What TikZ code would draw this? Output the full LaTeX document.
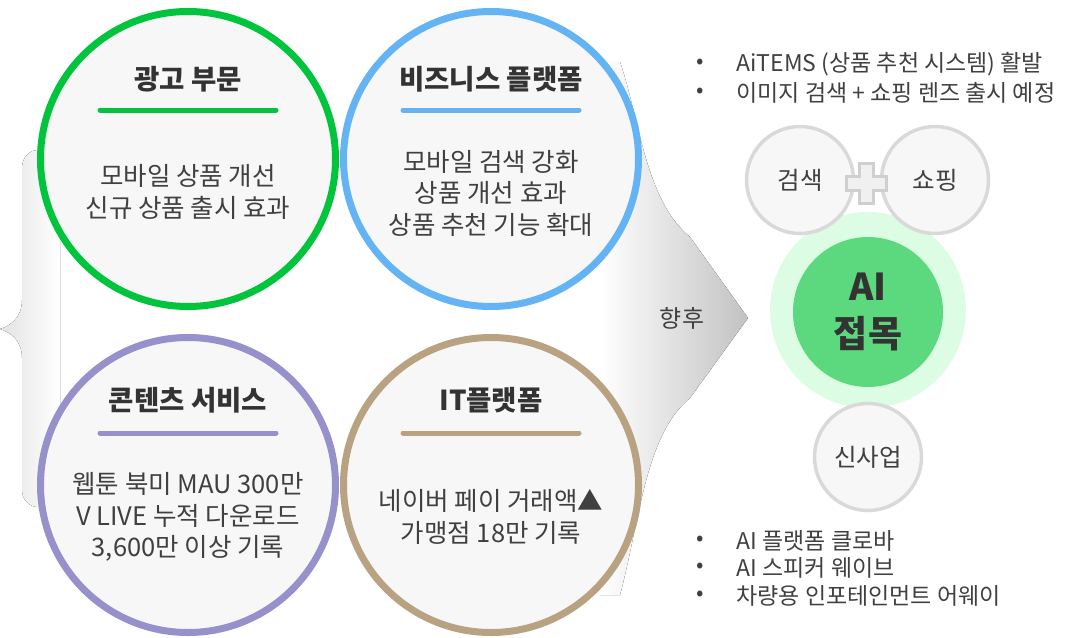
\documentclass[tikz,border=0pt]{standalone}
\usepackage{fontspec}
\setmainfont{Noto Sans CJK KR}
\usetikzlibrary{positioning}
\definecolor{adgreen}{HTML}{00C43C}
\definecolor{bizblue}{HTML}{64B4F5}
\definecolor{conpurple}{HTML}{9691CA}
\definecolor{itbrown}{HTML}{B9A282}
\definecolor{txtgray}{HTML}{404040}
\definecolor{headgray}{HTML}{333333}
\definecolor{ringgray}{HTML}{D9D9D9}
\definecolor{softfill}{HTML}{F7F7F7}
\definecolor{aiglow}{HTML}{DCFCE3}
\definecolor{aigreen}{HTML}{5CD97F}
\tikzset{
  areacircle/.style={circle, line width=7pt, fill=softfill, minimum size=295pt, inner sep=0pt},
  areatitle/.style={font=\bfseries\fontsize{27.5}{32}\selectfont, text=headgray},
  areabody/.style={align=center, font=\fontsize{25.5}{31.5}\selectfont, text=txtgray},
  titlebar/.style={line width=5pt, line cap=round},
  smallcircle/.style={circle, line width=3.5pt, draw=ringgray, fill=softfill, minimum size=107pt, inner sep=0pt,
    font=\fontsize{24.5}{28}\selectfont, text=txtgray},
  bulletdot/.style={font=\fontsize{22}{26}\selectfont, text=txtgray},
  bullettext/.style={anchor=west, font=\fontsize{23}{27}\selectfont, text=txtgray}
}
\begin{document}
\begin{tikzpicture}[x=1pt, y=-1pt]
  \useasboundingbox (0,0) rectangle (1078,637);

  % brace behind the left circles
  \fill[left color=black!11, right color=white]
    (60,150) -- (38,150) to[out=180, in=90] (22,168) -- (22,300)
    .. controls (22,318) and (10,326) .. (0,329)
    .. controls (10,332) and (22,340) .. (22,358) -- (22,490)
    to[out=-90, in=180] (38,507) -- (60,507) -- cycle;

  % big arrow towards the AI circle
  \fill[left color=white, right color=black!24]
    (600,62) -- (620,62) .. controls (640,120) and (645,200) .. (690,237)
    -- (748,318) -- (690,398)
    .. controls (645,435) and (640,520) .. (620,595) -- (600,595) -- cycle;
  \node[font=\fontsize{24}{28}\selectfont, text=txtgray] (later) at (682,318) {향후};

  % four business areas
  \node[areacircle, draw=adgreen] (ad) at (188,159) {};
  \node[areatitle] (adtitle) at (188,79) {광고 부문};
  \draw[titlebar, adgreen] (100,110) -- (276,110);
  \node[areabody] (adbody) at (188,192) {모바일 상품 개선\\신규 상품 출시 효과};

  \node[areacircle, draw=bizblue] (biz) at (491,159) {};
  \node[areatitle] (biztitle) at (491,79) {비즈니스 플랫폼};
  \draw[titlebar, bizblue] (403,110) -- (579,110);
  \node[areabody] (bizbody) at (491,193) {모바일 검색 강화\\상품 개선 효과\\상품 추천 기능 확대};

  \node[areacircle, draw=conpurple] (con) at (188,485) {};
  \node[areatitle] (contitle) at (188,400) {콘텐츠 서비스};
  \draw[titlebar, conpurple] (100,433) -- (276,433);
  \node[areabody] (conbody) at (188,517) {웹툰 북미 MAU 300만\\V LIVE 누적 다운로드\\3,600만 이상 기록};

  \node[areacircle, draw=itbrown] (it) at (491,485) {};
  \node[areatitle] (ittitle) at (491,400) {IT플랫폼};
  \draw[titlebar, itbrown] (403,433) -- (579,433);
  \node[areabody] (itbody) at (491,517) {네이버 페이 거래액▲\\가맹점 18만 기록};

  % AI core
  \node[circle, fill=aiglow, minimum size=196pt] (aiglow) at (868,310) {};
  \node[circle, fill=aigreen, minimum size=150pt, align=center, text=headgray,
    font=\bfseries\fontsize{37}{47}\selectfont] (ai) at (868,312) {AI\\접목};

  % satellites
  \node[smallcircle] (search) at (800,180) {검색};
  \node[smallcircle] (shop) at (935,180) {쇼핑};
  \node[smallcircle] (newbiz) at (868,457) {신사업};
  \filldraw[fill=black!6, draw=black!19, line width=3pt]
    (859,163) -- (873,163) -- (873,176) -- (886,176) -- (886,190) -- (873,190)
    -- (873,203) -- (859,203) -- (859,190) -- (846,190) -- (846,176) -- (859,176) -- cycle;

  % bullet notes
  \node[bulletdot] (d1) at (700,64) {•};
  \node[bullettext] (t1) at (733,64) {AiTEMS (상품 추천 시스템) 활발};
  \node[bulletdot] (d2) at (700,93) {•};
  \node[bullettext] (t2) at (733,93) {이미지 검색 + 쇼핑 렌즈 출시 예정};

  \node[bulletdot] (d3) at (700,541) {•};
  \node[bullettext] (t3) at (733,541) {AI 플랫폼 클로바};
  \node[bulletdot] (d4) at (700,568) {•};
  \node[bullettext] (t4) at (733,568) {AI 스피커 웨이브};
  \node[bulletdot] (d5) at (700,596) {•};
  \node[bullettext] (t5) at (733,596) {차량용 인포테인먼트 어웨이};
\end{tikzpicture}
\end{document}
